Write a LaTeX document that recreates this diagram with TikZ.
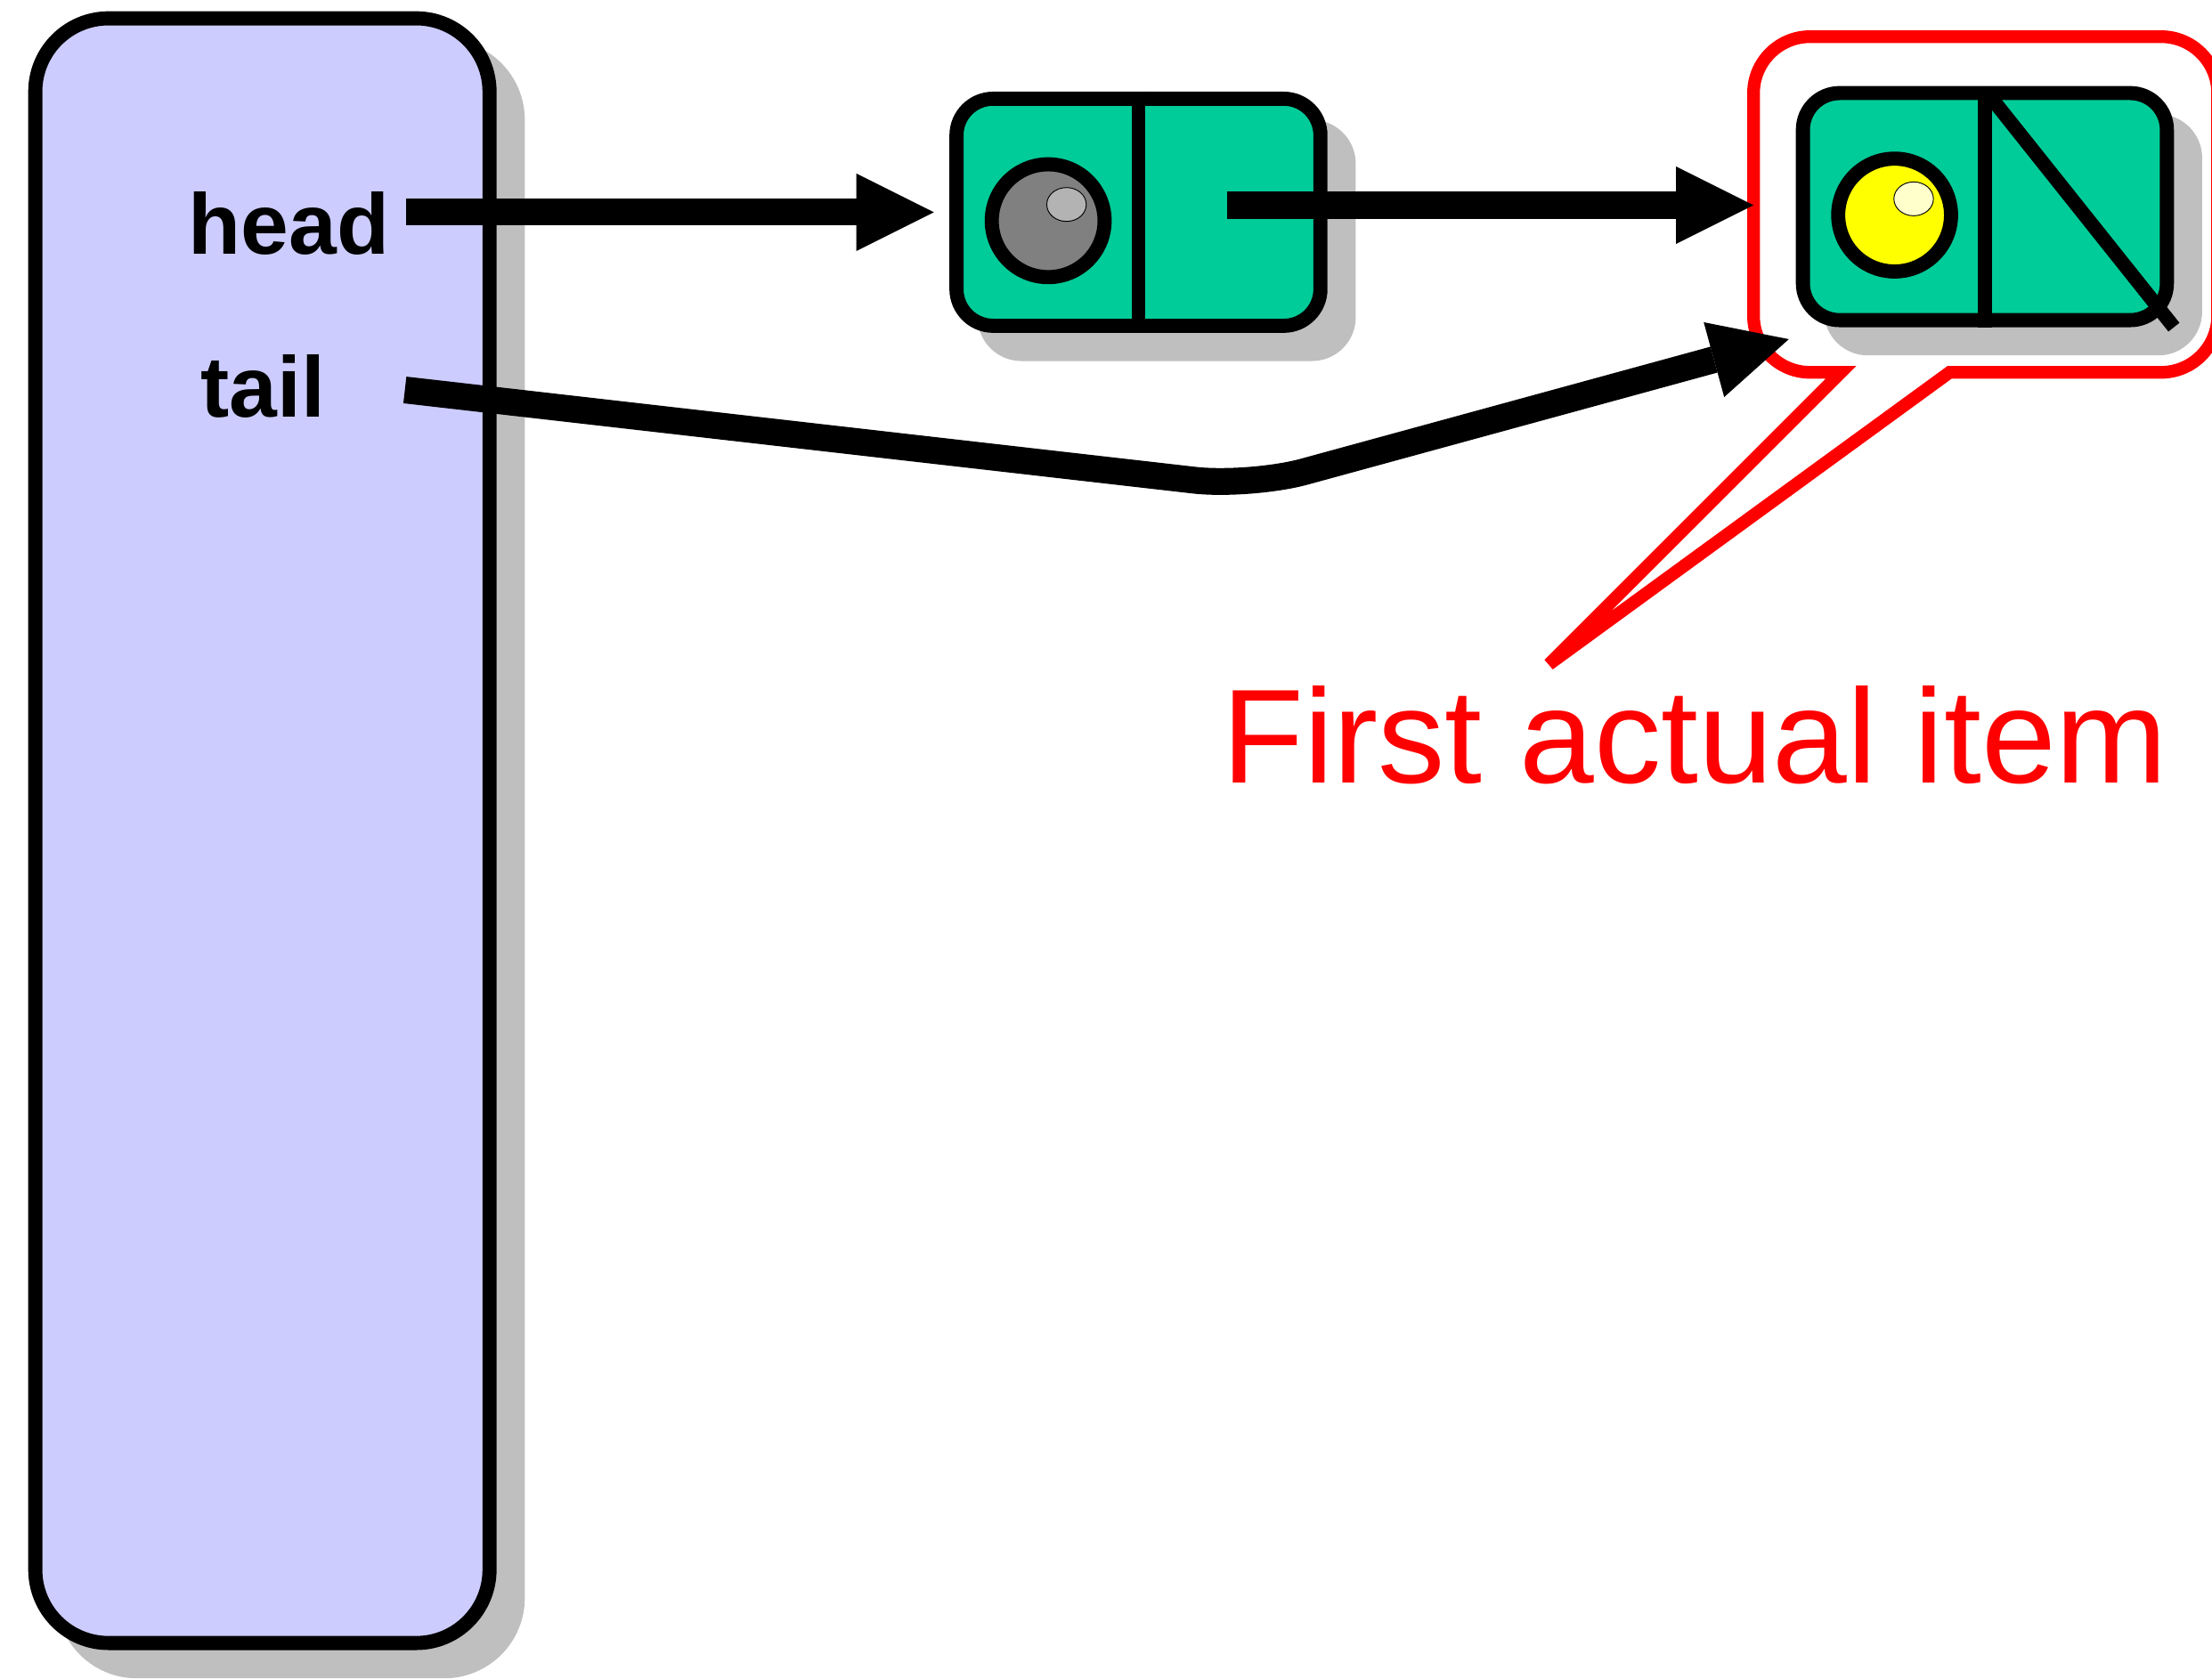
\documentclass[tikz,border=0pt]{standalone}
\usepackage{fontspec}
\setmainfont{Liberation Sans}
\usetikzlibrary{arrows.meta,shapes.geometric}
\definecolor{panel}{HTML}{CCCCFF}
\definecolor{cell}{HTML}{00CC99}
\definecolor{shadowgray}{HTML}{BFBFBF}
\definecolor{ballgray}{HTML}{808080}
\definecolor{glintgray}{HTML}{B3B3B3}
\definecolor{ballyellow}{HTML}{FFFF00}
\definecolor{glintyellow}{HTML}{FFFFCC}
\definecolor{callred}{HTML}{FF0000}

\begin{document}
\begin{tikzpicture}[x=1pt,y=-1pt,
  outline/.style={draw=black,line width=10pt},
  panelbox/.style={outline,fill=panel,rectangle,rounded corners=52pt,
    minimum width=322pt,minimum height=1152pt,inner sep=0pt},
  panelshadow/.style={panelbox,draw=shadowgray,fill=shadowgray},
  listcell/.style={outline,fill=cell,rectangle,rounded corners=26pt,
    minimum width=258pt,minimum height=161pt,inner sep=0pt},
  cellshadow/.style={listcell,draw=shadowgray,fill=shadowgray},
  ball/.style={circle,outline,minimum size=80pt,inner sep=0pt},
  glint/.style={ellipse,draw=black,line width=0.6pt,
    minimum width=28pt,minimum height=24pt,inner sep=0pt},
  field/.style={font=\fontsize{61}{61}\selectfont\bfseries,inner sep=0pt,anchor=base west},
  ptr/.style={draw=black,line width=19pt,line cap=butt,
    -{Triangle[length=55pt,width=55pt,line width=0pt]}},
  callout/.style={draw=callred,line width=9pt,line join=miter},
]
\useasboundingbox (0,0) rectangle (1568,1190);

% queue record with its two fields
\node[panelshadow] at (206,609) {};
\node[panelbox] (rec) at (186,589) {};
\node[field] (head) at (133.5,180) {head};
\node[field] (tail) at (142,296) {tail};

% list cells
\coordinate (c1) at (807,150.5);
\coordinate (c2) at (1407,146.5);
\node[cellshadow] at ([shift={(20,20)}]c1) {};
\node[cellshadow] at ([shift={(20,20)}]c2) {};
\node[listcell] (n1) at (c1) {};
\node[listcell] (n2) at (c2) {};
\draw[outline] (n1.north) -- (n1.south);
\draw[outline] (n2.north) -- (n2.south);
\draw[outline,line cap=butt] ([shift={(1,4)}]n2.north) -- (n2.south east);

\node[ball,fill=ballgray] (b1) at ([shift={(-64,6)}]n1.center) {};
\node[glint,fill=glintgray] at ([shift={(13,-11.5)}]b1.center) {};
\node[ball,fill=ballyellow] (b2) at ([shift={(-64,6)}]n2.center) {};
\node[glint,fill=glintyellow] at ([shift={(13.5,-11.5)}]b2.center) {};

% callout around the first real cell
\draw[callout] (1098,471) -- (1382,264) -- (1532,264)
  .. controls (1554,264) and (1572,246) .. (1572,224) -- (1572,66)
  .. controls (1572,44) and (1554,26) .. (1532,26) -- (1283,26)
  .. controls (1261,26) and (1243,44) .. (1243,66) -- (1243,224)
  .. controls (1243,246) and (1261,264) .. (1283,264) -- (1305,264) -- cycle;
\node[text=callred,font=\fontsize{95}{95}\selectfont,inner sep=0pt,anchor=base west]
  (note) at (866,555) {First actual item};

% pointers
\coordinate (headout) at (288,150.5);
\coordinate (tailout) at (287,276.5);
\coordinate (n1ptr) at ([shift={(63,-5)}]n1.center);
\coordinate (bend) at (886,345);
\draw[ptr,shorten >=11pt] (headout) -- (headout -| n1.west);
\draw[ptr,shorten >=30pt] (n1ptr) -- (n1ptr -| n2.west);
\draw[ptr,rounded corners=40pt] (tailout) -- (bend) -- ([shift={(-5,8.5)}]n2.south west);
\end{tikzpicture}
\end{document}
